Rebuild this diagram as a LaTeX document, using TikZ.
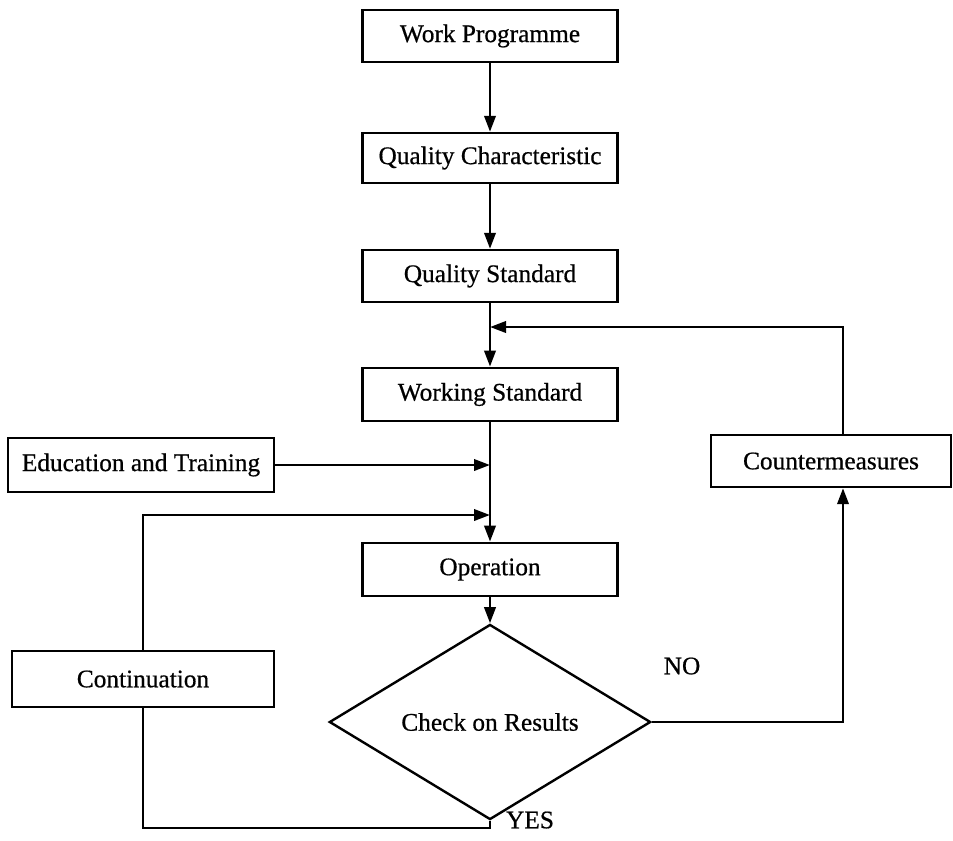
\documentclass[tikz,border=0pt]{standalone}
\usepackage{fontspec}
\setmainfont{Liberation Serif}[FakeBold=0.6]
\usetikzlibrary{shapes.geometric,arrows.meta}
\begin{document}
\begin{tikzpicture}[x=0.75pt,y=-0.75pt,
  every node/.style={font=\fontsize{19}{22}\selectfont},
  box/.style={draw,line width=1.8pt,inner sep=0pt,minimum width=#1},
  box/.default=191pt,
  decide/.style={draw,diamond,line width=1.8pt,inner sep=0pt,minimum width=241pt,minimum height=101pt},
  link/.style={line width=2pt},
  arr/.style={link,-{Triangle[length=12pt,width=8.5pt]}},
  lbl/.style={inner sep=0pt}
]
\useasboundingbox (0,0) rectangle (953,840);
% centre column
\node[box,minimum height=39pt] (wp) at (490,36) {Work Programme};
\node[box,minimum height=37.5pt] (qc) at (490,158) {Quality Characteristic};
\node[box,minimum height=39pt] (qs) at (490,276) {Quality Standard};
\node[box,minimum height=40pt] (ws) at (490,394.5) {Working Standard};
\node[box,minimum height=40pt] (op) at (490,569.5) {Operation};
\node[decide] (chk) at (490,722) {Check on Results};
% side boxes
\node[box=199.5pt,minimum height=40.5pt] (edu) at (141,465) {Education and Training};
\node[box=180pt,minimum height=39pt] (cm) at (831,461) {Countermeasures};
\node[box=196.5pt,minimum height=42pt] (cont) at (143,679) {Continuation};
% labels
\node[lbl] (no) at (682,666) {NO};
\node[lbl] (yes) at (530,820) {YES};
% junction coordinates
\coordinate (jfb) at (490,327);
\coordinate (jedu) at (490,465);
\coordinate (jcont) at (490,515);
\coordinate (cmx) at (843,0);
\coordinate (bot) at (0,828);
% main flow
\draw[arr] (wp) -- (qc);
\draw[arr] (qc) -- (qs);
\draw[arr] (qs) -- (ws);
\draw[arr] (ws) -- (op);
\draw[arr] (op.south) -- (chk.north);
% inputs
\draw[arr] (edu.east) -- (jedu);
\draw[arr] (cont.north) |- (jcont);
% NO branch
\draw[arr] (chk.east) -| (cm.south -| cmx);
\draw[arr] (cm.north -| cmx) |- (jfb);
% YES branch
\draw[link] (chk.south) -- (chk.south |- bot) -| (cont.south);
\end{tikzpicture}
\end{document}
